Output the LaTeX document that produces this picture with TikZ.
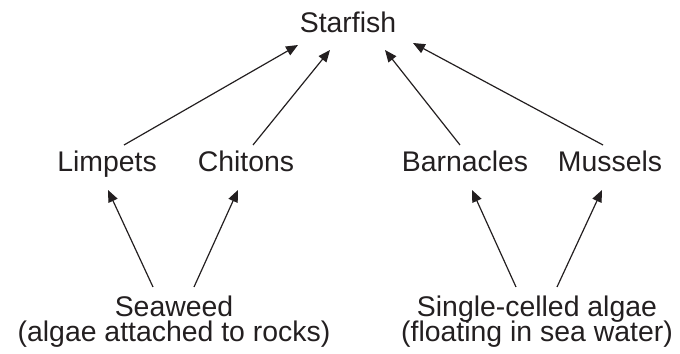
\documentclass[tikz,border=0pt]{standalone}
\usepackage{fontspec}
\setmainfont{Liberation Sans}
\usetikzlibrary{arrows.meta,calc}
\definecolor{ink}{RGB}{35,31,32}

\begin{document}
\begin{tikzpicture}[x=0.025cm, y=-0.025cm,
        lbl/.style={anchor=base, inner sep=0pt, text=ink, font=\fontsize{20.2}{18.5}\selectfont},
        arr/.style={draw=ink, line width=0.85pt, -{Triangle[length=8.5pt, width=7pt]}}]
        \useasboundingbox (0,0) rectangle (680,354);
        % top of the chain
        \node [lbl] (starfish) at (348, 33) {Starfish};
        % grazers and filter feeders
        \node [lbl] (limpets) at (107, 172) {Limpets};
        \node [lbl] (chitons) at (246, 172) {Chitons};
        \node [lbl] (barnacles) at (465, 172) {Barnacles};
        \node [lbl] (mussels) at (610, 172) {Mussels};
        % producers
        \node [lbl] (seaweed) at (174, 317) {Seaweed};
        \node [lbl] (seaweednote) at (174, 342) {(algae attached to rocks)};
        \node [lbl] (algae) at (537, 317) {Single-celled algae};
        \node [lbl] (algaenote) at (537, 342) {(floating in sea water)};
        % eaten by starfish
        \draw [arr] ($(limpets.base)+(17,-27)$) -- ($(starfish.base)+(-50,12)$);
        \draw [arr] ($(chitons.base)+(7,-27)$) -- ($(starfish.base)+(-18,17)$);
        \draw [arr] ($(barnacles.base)+(-5,-27)$) -- ($(starfish.base)+(37,17)$);
        \draw [arr] ($(mussels.base)+(-7,-27)$) -- ($(starfish.base)+(65,10)$);
        % algae eaten
        \draw [arr] ($(seaweed.base)+(-21,-30)$) -- ($(limpets.base)+(1,18)$);
        \draw [arr] ($(seaweed.base)+(20,-30)$) -- ($(chitons.base)+(-8,18)$);
        \draw [arr] ($(algae.base)+(-21,-30)$) -- ($(barnacles.base)+(7,18)$);
        \draw [arr] ($(algae.base)+(20,-30)$) -- ($(mussels.base)+(-8,18)$);
\end{tikzpicture}
\end{document}
